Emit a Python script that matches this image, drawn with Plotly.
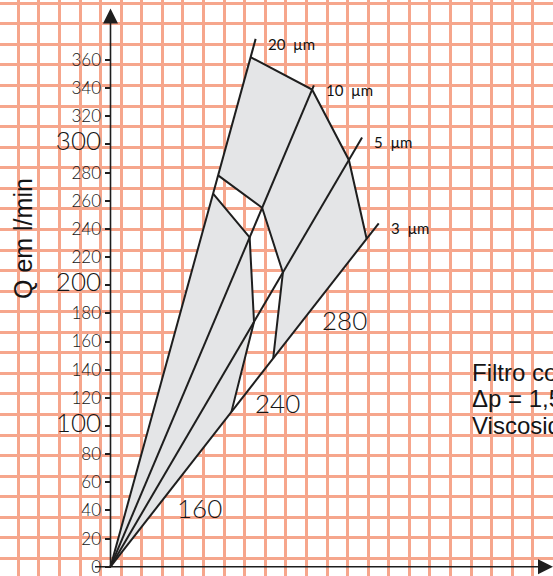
import plotly.graph_objects as go

# ---------------- data ----------------
Q_TICKS = list(range(0, 361, 20))
BIG_TICKS = [100, 200, 300]

MICRON_LABELS = ["20  µm", "10  µm", "5  µm", "3  µm"]
# horizontal run per unit of Q for each filtration line (x / Q)
LINE_SLOPE = [0.275, 0.4225, 0.586, 0.781]
LINE_END_Q = [375, 342, 305, 244]      # where each line stops
OUTER_Q = [362, 339, 289, 233]         # outer boundary (upper curve)
CURVE_A_Q = [278, 255, 209, 148]       # inner curve A
CURVE_B_Q = [265, 234, 174, 110]       # inner curve B

REGION_LABELS = ["280", "240", "160"]
REGION_X = [166, 119, 63]
REGION_Q = [175, 116, 42]

NOTE_LINES = ["Filtro completo", "Δp = 1,5 bar", "Viscosidade 30 mm²/s"]

# ---------------- layout constants ----------------
W, H = 553, 576
PX = 1.4075            # pixels per unit on both axes
X0_PX, Y0_PX = 110.5, 566.7
XR = [-X0_PX / PX, (W - X0_PX) / PX]
YR = [-(H - Y0_PX) / PX, Y0_PX / PX]

LINE_C = "#1e1e1e"
FILL_C = "#e4e5e7"
GRID_C = "#f6a68c"
LIGHT_FONT = dict(family="Lato, Liberation Sans, sans-serif", color="#161616", weight=300)
LABEL_FONT = dict(family="Lato, Liberation Sans, sans-serif", color="#111111", weight=400)


def pt(line_idx, q):
    return LINE_SLOPE[line_idx] * q, q


fig = go.Figure()

# dummy trace for the graph-paper grid axes
fig.add_trace(go.Scatter(x=[], y=[], xaxis="x2", yaxis="y2", showlegend=False, hoverinfo="skip"))

# gray region between 20 µm line, curve B and 3 µm line
xs, ys = [0], [0]
for i, q in enumerate(CURVE_B_Q):
    x, y = pt(i, q)
    xs.append(x); ys.append(y)
xs.append(0); ys.append(0)
fig.add_trace(go.Scatter(x=xs, y=ys, mode="lines", fill="toself", fillcolor=FILL_C,
                         line=dict(width=0), showlegend=False, hoverinfo="skip"))

# gray region between curve A and the outer boundary
xs, ys = [], []
x, y = pt(0, CURVE_A_Q[0]); xs.append(x); ys.append(y)
for i, q in enumerate(OUTER_Q):
    x, y = pt(i, q); xs.append(x); ys.append(y)
for i in range(len(CURVE_A_Q) - 1, -1, -1):
    x, y = pt(i, CURVE_A_Q[i]); xs.append(x); ys.append(y)
fig.add_trace(go.Scatter(x=xs, y=ys, mode="lines", fill="toself", fillcolor=FILL_C,
                         line=dict(width=0), showlegend=False, hoverinfo="skip"))

# radial lines
for i, qe in enumerate(LINE_END_Q):
    x, y = pt(i, qe)
    fig.add_trace(go.Scatter(x=[0, x], y=[0, y], mode="lines",
                             line=dict(color=LINE_C, width=2), showlegend=False, hoverinfo="skip"))

# curves
for qs in (OUTER_Q, CURVE_A_Q, CURVE_B_Q):
    cx = [pt(i, q)[0] for i, q in enumerate(qs)]
    cy = [pt(i, q)[1] for i, q in enumerate(qs)]
    fig.add_trace(go.Scatter(x=cx, y=cy, mode="lines",
                             line=dict(color=LINE_C, width=2), showlegend=False, hoverinfo="skip"))

# axes with arrows
Y_TOP = (Y0_PX - 8.5) / PX
X_RIGHT = (W - X0_PX) / PX
X_LEFT = (95 - X0_PX) / PX
fig.add_trace(go.Scatter(x=[0, 0], y=[0, Y_TOP - 3], mode="lines",
                         line=dict(color=LINE_C, width=1.6), showlegend=False, hoverinfo="skip"))
fig.add_trace(go.Scatter(x=[0], y=[Y_TOP], mode="markers",
                         marker=dict(symbol="arrow-up", size=15, color=LINE_C),
                         showlegend=False, hoverinfo="skip"))
fig.add_trace(go.Scatter(x=[X_LEFT, X_RIGHT - 3], y=[0, 0], mode="lines",
                         line=dict(color=LINE_C, width=1.6), showlegend=False, hoverinfo="skip"))
fig.add_trace(go.Scatter(x=[X_RIGHT], y=[0], mode="markers",
                         marker=dict(symbol="arrow-right", size=15, color=LINE_C),
                         showlegend=False, hoverinfo="skip"))

annotations = []
# micron labels at line ends
for i, lab in enumerate(MICRON_LABELS):
    x, y = pt(i, LINE_END_Q[i])
    annotations.append(dict(x=x, y=y, xref="x", yref="y", text=lab, showarrow=False,
                            xanchor="left", yanchor="middle", xshift=10, yshift=-5,
                            font=dict(size=15, **LABEL_FONT)))
# region labels
for lab, rx, rq in zip(REGION_LABELS, REGION_X, REGION_Q):
    annotations.append(dict(x=rx, y=rq, xref="x", yref="y", text=lab, showarrow=False,
                            xanchor="center", yanchor="middle",
                            font=dict(size=26, **LIGHT_FONT)))
# note text (runs off the right edge, as in the source sheet)
for k, line in enumerate(NOTE_LINES):
    annotations.append(dict(x=470 / W, y=1 - (372 + 26.5 * k) / H, xref="paper", yref="paper",
                            text=line, showarrow=False, xanchor="left", yanchor="middle",
                            font=dict(size=24, family="Liberation Sans, Arial, sans-serif", color="#151515")))
# y axis title
annotations.append(dict(x=23 / W, y=1 - 239 / H, xref="paper", yref="paper", text="Q em l/min",
                        textangle=-90, showarrow=False, xanchor="center", yanchor="middle",
                        font=dict(size=25, family="Liberation Sans, Arial, sans-serif", color="#151515")))

ticktext = [f"<span style='font-size:26px'>{t}</span>" if t in BIG_TICKS else str(t) for t in Q_TICKS]

fig.update_layout(
    width=W, height=H, margin=dict(l=0, r=0, t=0, b=0),
    paper_bgcolor="white", plot_bgcolor="white",
    showlegend=False,
    annotations=annotations,
    xaxis=dict(range=XR, showgrid=False, zeroline=False, showticklabels=False, ticks="",
               showline=False, fixedrange=True),
    yaxis=dict(range=YR, anchor="free", position=X0_PX / W, showgrid=False, zeroline=False,
               showline=False, tickvals=Q_TICKS, ticktext=ticktext, ticks="outside",
               ticklen=6, tickwidth=1.5, tickcolor=LINE_C, ticklabeloverflow="allow",
               tickfont=dict(size=17, **LIGHT_FONT)),
    xaxis2=dict(overlaying="x", range=[0, W], showgrid=True, gridcolor=GRID_C, gridwidth=2.5,
                tick0=18.3, dtick=20.58, showticklabels=False, ticks="", zeroline=False,
                showline=False),
    yaxis2=dict(overlaying="y", range=[H, 0], showgrid=True, gridcolor=GRID_C, gridwidth=2.5,
                tick0=3.3, dtick=20.56, showticklabels=False, ticks="", zeroline=False,
                showline=False),
)

fig.write_html("out.html", config={"displayModeBar": False},
               post_script="document.body.style.margin='0';document.body.style.padding='0';")
